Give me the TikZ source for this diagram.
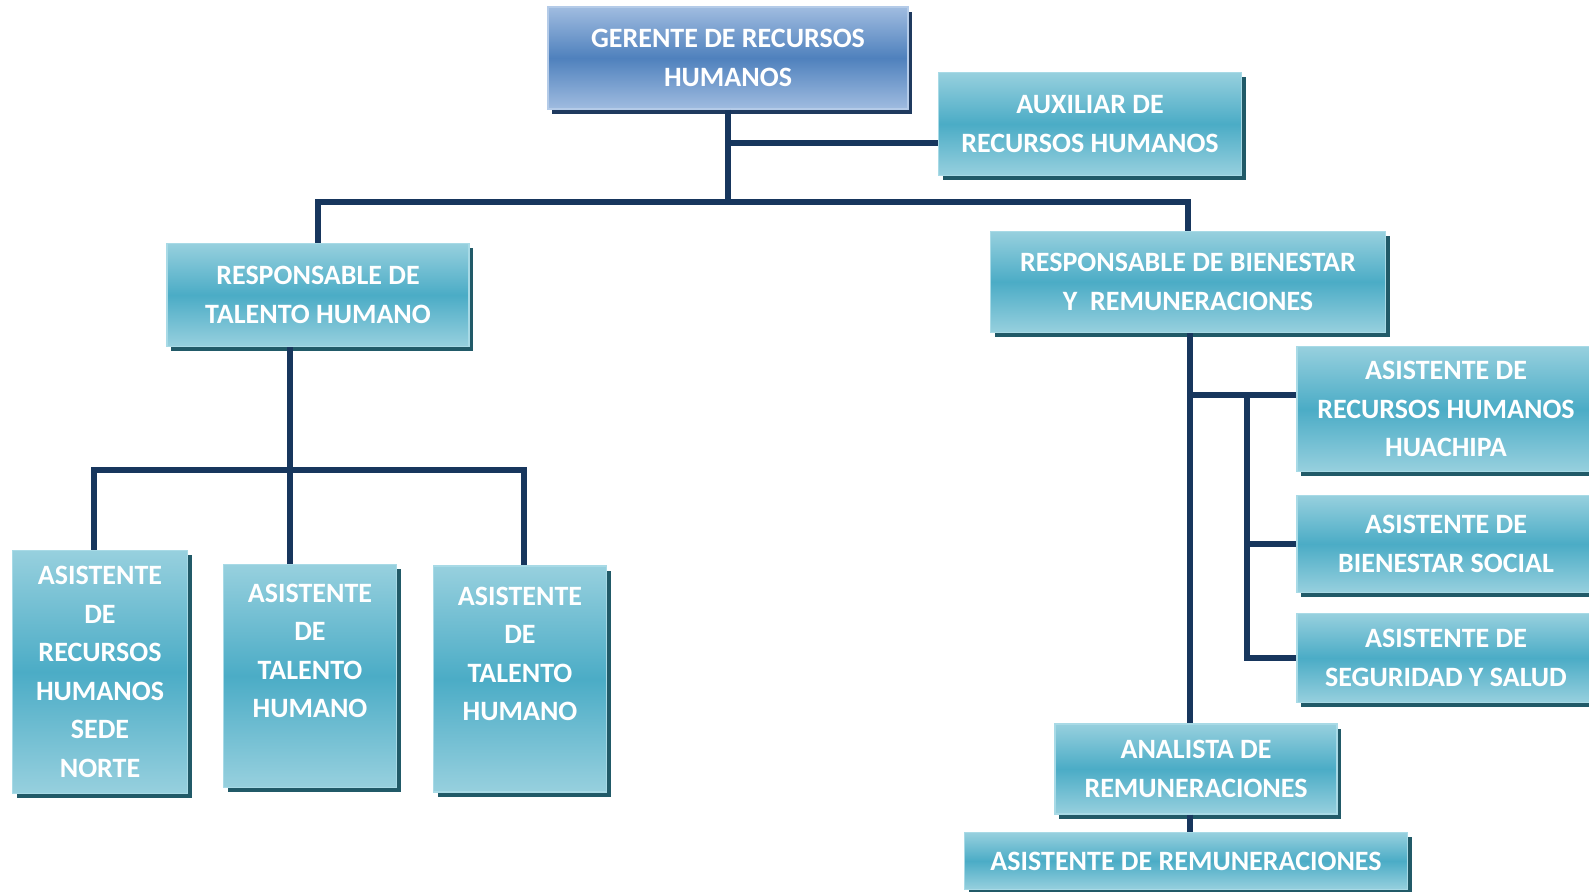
\documentclass[tikz,border=0pt]{standalone}
\usepackage{fontspec}
\setmainfont{Carlito}
\usepackage{xcolor}
\usetikzlibrary{calc, shadows}
\definecolor{tealtop}{HTML}{97D0DE}
\definecolor{tealmid}{HTML}{4BACC6}
\definecolor{tealline}{HTML}{A8DAE6}
\definecolor{tealshadow}{HTML}{215A68}
\definecolor{bluetop}{HTML}{A0BCE0}
\definecolor{bluemid}{HTML}{4F81BD}
\definecolor{blueline}{HTML}{B4CBE8}
\definecolor{blueshadow}{HTML}{1F3A5F}
\definecolor{navy}{HTML}{17365D}

\begin{document}
\begin{tikzpicture}[x=0.5pt, y=-0.5pt,
    font=\bfseries\fontsize{14}{19.3}\selectfont,
    box/.style={draw=tealline, line width=0.6pt, top color=tealtop, bottom color=tealtop,
                middle color=tealmid, text=white, align=center, inner sep=2pt,
                drop shadow={shadow xshift=2.2pt, shadow yshift=-2.4pt, fill=tealshadow, opacity=1}},
    bossbox/.style={box, draw=blueline, top color=bluetop, bottom color=bluetop, middle color=bluemid,
                drop shadow={shadow xshift=2.2pt, shadow yshift=-2.4pt, fill=blueshadow, opacity=1}},
    link/.style={draw=navy, line width=2.6pt}]

  \useasboundingbox (0,0) rectangle (1589,892);

  % Top level.
  \node[bossbox, minimum width=180pt, minimum height=51pt] (ger) at (728,58)
    {GERENTE DE RECURSOS\\HUMANOS};
  \node[box, minimum width=151.5pt, minimum height=51.5pt] (aux) at (1090,124)
    {AUXILIAR DE\\RECURSOS HUMANOS};

  % Second level.
  \node[box, minimum width=151pt, minimum height=51.5pt] (rth) at (318,295)
    {RESPONSABLE DE\\TALENTO HUMANO};
  \node[box, minimum width=197.5pt, minimum height=50.5pt] (rbr) at (1188,282)
    {RESPONSABLE DE BIENESTAR\\Y\ \ REMUNERACIONES};

  % Talento humano branch.
  \node[box, minimum width=87.5pt, minimum height=121.5pt] (a1) at (100,672)
    {ASISTENTE\\DE\\RECURSOS\\HUMANOS\\SEDE\\NORTE};
  \node[box, minimum width=86.5pt, minimum height=111.5pt] (a2) at (310,676)
    {ASISTENTE\\DE\\TALENTO\\HUMANO\\\strut};
  \node[box, minimum width=86.5pt, minimum height=113pt] (a3) at (520,679)
    {ASISTENTE\\DE\\TALENTO\\HUMANO\\\strut};

  % Bienestar y remuneraciones branch.
  \node[box, minimum width=149pt, minimum height=62.5pt] (arh) at (1446,409)
    {ASISTENTE DE\\RECURSOS HUMANOS\\HUACHIPA};
  \node[box, minimum width=149pt, minimum height=48.5pt] (abs) at (1446,544)
    {ASISTENTE DE\\BIENESTAR SOCIAL};
  \node[box, minimum width=149pt, minimum height=44.5pt] (ass) at (1446,658)
    {ASISTENTE DE\\SEGURIDAD Y SALUD};
  \node[box, minimum width=141pt, minimum height=45pt] (ana) at (1196,769)
    {ANALISTA DE\\REMUNERACIONES};
  \node[box, minimum width=221.5pt, minimum height=28.5pt] (asr) at (1186,861)
    {ASISTENTE DE REMUNERACIONES};

  % Junction points.
  \coordinate (bus) at (728,202);
  \coordinate (auxj) at (728,143);
  \coordinate (tbus) at (290,470);
  \coordinate (tl) at (94,470);
  \coordinate (tr) at (524,470);
  \coordinate (rj) at (1190,395);
  \coordinate (rk) at (1247,395);

  % Connectors.
  \draw[link] (ger.south) -- (bus);
  \draw[link] (auxj) -- (auxj -| aux.west);
  \draw[link] (rth.north) |- (bus) -| (rbr.north);
  \draw[link] (rth.south -| tbus) -- (a2.north -| tbus);
  \draw[link] (a1.north -| tl) -- (tl) -- (tr) -- (a3.north -| tr);
  \draw[link] (rbr.south -| rj) -- (ana.north -| rj);
  \draw[link] (rj) -- (rj -| arh.west);
  \draw[link] (rk) |- (abs.west);
  \draw[link] (rk) |- (ass.west);
  \draw[link] (ana.south -| rj) -- (asr.north -| rj);
\end{tikzpicture}
\end{document}
